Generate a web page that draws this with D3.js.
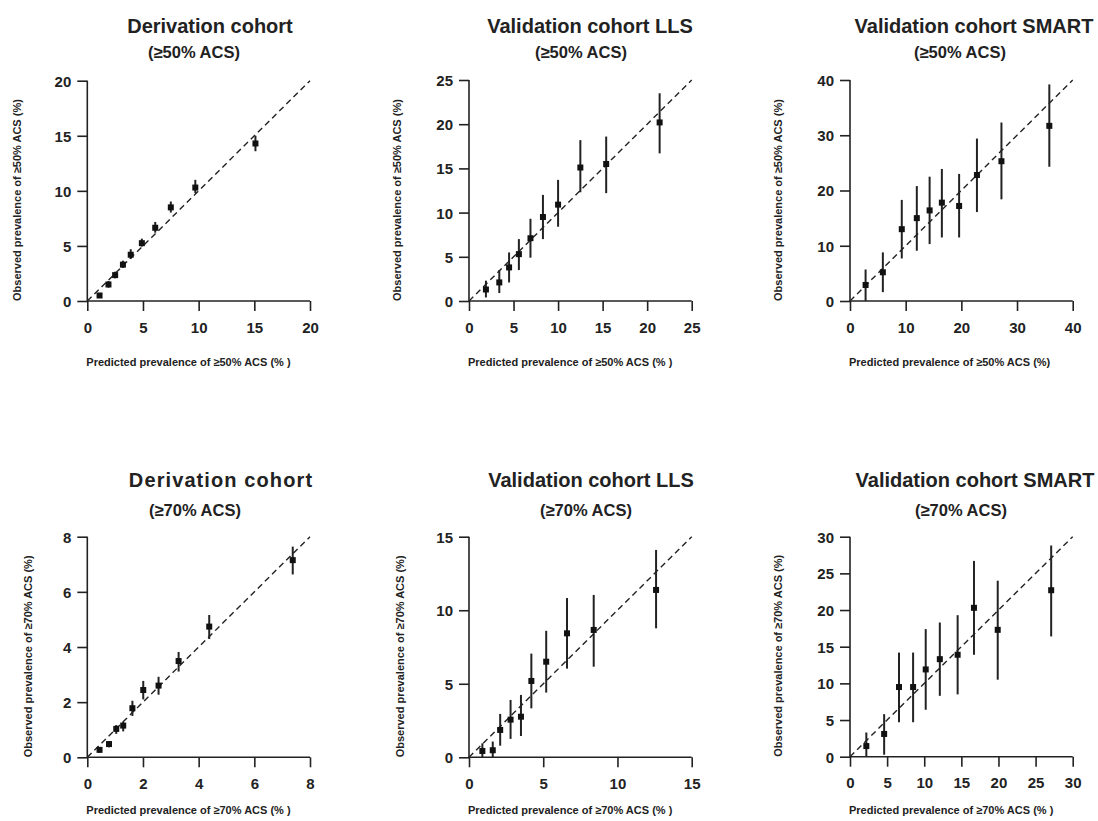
<!DOCTYPE html>
<html>
<head>
<meta charset="utf-8">
<script src="https://cdn.jsdelivr.net/npm/d3@7"></script>
<style>
  html, body { margin: 0; padding: 0; background: #fff; }
  svg { display: block; font-family: "Liberation Sans", Arial, sans-serif; }
</style>
</head>
<body>
<svg id="chart" width="1098" height="821"></svg>
<script>
// Calibration data: predicted vs observed prevalence (%) with 95% CI, per decile

// Derivation cohort, >=50% ACS
const derivPred50 = [1.1, 1.9, 2.5, 3.2, 3.9, 4.9, 6.1, 7.5, 9.7, 15.1];
const derivObs50  = [0.5, 1.5, 2.35, 3.3, 4.2, 5.25, 6.65, 8.5, 10.3, 14.3];
const derivLo50   = [0.27, 1.21, 2.06, 3.0, 3.82, 4.94, 6.2, 8.03, 9.8, 13.6];
const derivHi50   = [0.7, 1.82, 2.66, 3.66, 4.7, 5.66, 7.18, 9.03, 11.0, 15.0];

// Validation cohort LLS, >=50% ACS
const llsPred50 = [1.9, 3.4, 4.5, 5.6, 6.9, 8.3, 10.0, 12.5, 15.4, 21.4];
const llsObs50  = [1.3, 2.1, 3.8, 5.3, 7.1, 9.5, 10.9, 15.1, 15.5, 20.2];
const llsLo50   = [0.4, 0.9, 2.1, 3.5, 4.9, 7.0, 8.4, 12.3, 12.2, 16.7];
const llsHi50   = [2.3, 3.5, 5.5, 7.0, 9.3, 12.0, 13.7, 18.2, 18.6, 23.5];

// Validation cohort SMART, >=50% ACS
const smartPred50 = [2.8, 5.9, 9.3, 12.0, 14.3, 16.5, 19.6, 22.8, 27.2, 35.8];
const smartObs50  = [2.9, 5.2, 13.0, 15.0, 16.4, 17.8, 17.2, 22.8, 25.3, 31.7];
const smartLo50   = [0.0, 1.6, 7.7, 9.1, 10.3, 11.5, 11.5, 16.1, 18.4, 24.3];
const smartHi50   = [5.7, 8.8, 18.3, 20.8, 22.5, 23.9, 23.0, 29.4, 32.3, 39.2];

// Derivation cohort, >=70% ACS
const derivPred70 = [0.44, 0.78, 1.04, 1.29, 1.62, 2.01, 2.56, 3.28, 4.38, 7.38];
const derivObs70  = [0.27, 0.48, 1.03, 1.15, 1.78, 2.44, 2.6, 3.49, 4.74, 7.15];
const derivLo70   = [0.17, 0.36, 0.85, 0.94, 1.5, 2.1, 2.27, 3.11, 4.29, 6.63];
const derivHi70   = [0.36, 0.59, 1.17, 1.28, 2.05, 2.77, 2.92, 3.82, 5.16, 7.64];

// Validation cohort LLS, >=70% ACS
const llsPred70 = [0.9, 1.6, 2.1, 2.8, 3.5, 4.2, 5.2, 6.6, 8.4, 12.6];
const llsObs70  = [0.43, 0.48, 1.86, 2.56, 2.76, 5.19, 6.5, 8.43, 8.66, 11.38];
const llsLo70   = [0.0, 0.0, 0.79, 1.25, 1.45, 3.33, 4.4, 6.03, 6.16, 8.77];
const llsHi70   = [0.95, 1.07, 2.95, 3.9, 4.24, 7.05, 8.6, 10.83, 11.04, 14.1];

// Validation cohort SMART, >=70% ACS
const smartPred70 = [2.2, 4.6, 6.6, 8.5, 10.2, 12.1, 14.5, 16.7, 19.9, 27.1];
const smartObs70  = [1.45, 3.1, 9.5, 9.5, 11.9, 13.3, 13.9, 20.3, 17.3, 22.7];
const smartLo70   = [0.0, 0.27, 4.7, 4.7, 6.4, 8.3, 8.5, 13.9, 10.5, 16.4];
const smartHi70   = [3.3, 5.8, 14.2, 14.2, 17.4, 18.3, 19.3, 26.7, 24.0, 28.8];

// Axis ticks
const ticksDeriv50 = [0, 5, 10, 15, 20];
const ticksLls50   = [0, 5, 10, 15, 20, 25];
const ticksSmart50 = [0, 10, 20, 30, 40];
const ticksDeriv70 = [0, 2, 4, 6, 8];
const ticksLls70   = [0, 5, 10, 15];
const ticksSmart70 = [0, 5, 10, 15, 20, 25, 30];

// Titles
const titles = ["Derivation cohort", "Validation cohort LLS", "Validation cohort SMART",
                "Derivation cohort", "Validation cohort LLS", "Validation cohort SMART"];
const subtitles = ["(\u226550% ACS)", "(\u226550% ACS)", "(\u226550% ACS)",
                   "(\u226570% ACS)", "(\u226570% ACS)", "(\u226570% ACS)"];
const xTitles = ["Predicted prevalence of \u226550% ACS (% )", "Predicted prevalence of \u226550% ACS (% )",
                 "Predicted prevalence of  \u226550% ACS (%)", "Predicted prevalence of  \u226570% ACS (% )",
                 "Predicted prevalence of \u226570% ACS (% )", "Predicted prevalence of  \u226570% ACS (% )"];
const yTitles = ["Observed prevalence of \u226550% ACS (%)", "Observed prevalence of \u226550% ACS (%)",
                 "Observed prevalence of \u226550% ACS (%)", "Observed prevalence of  \u226570% ACS (%)",
                 "Observed prevalence of  \u226570% ACS (%)", "Observed prevalence of  \u226570% ACS (%)"];

const panelData = [
  { pred: derivPred50, obs: derivObs50, lo: derivLo50, hi: derivHi50, ticks: ticksDeriv50 },
  { pred: llsPred50,   obs: llsObs50,   lo: llsLo50,   hi: llsHi50,   ticks: ticksLls50 },
  { pred: smartPred50, obs: smartObs50, lo: smartLo50, hi: smartHi50, ticks: ticksSmart50 },
  { pred: derivPred70, obs: derivObs70, lo: derivLo70, hi: derivHi70, ticks: ticksDeriv70 },
  { pred: llsPred70,   obs: llsObs70,   lo: llsLo70,   hi: llsHi70,   ticks: ticksLls70 },
  { pred: smartPred70, obs: smartObs70, lo: smartLo70, hi: smartHi70, ticks: ticksSmart70 }
];

// Panel geometry (plot frame in px) and text placement
const layout = [
  { x0: 87.3,  x1: 310,    y0: 301,   y1: 80.7,  tX: 210, tY: 33,  sX: 194, sY: 58,  yT: 17,  ls: 0,   xtY: 366 },
  { x0: 469,   x1: 691.7,  y0: 301,   y1: 80,    tX: 590, tY: 33,  sX: 581, sY: 58,  yT: 397, ls: 0,   xtY: 366 },
  { x0: 850,   x1: 1072.7, y0: 301,   y1: 80,    tX: 974, tY: 33,  sX: 960, sY: 58,  yT: 778, ls: 0,   xtY: 366 },
  { x0: 87.3,  x1: 310,    y0: 757.3, y1: 536.7, tX: 221, tY: 487, sX: 195, sY: 516, yT: 28,  ls: 1.1, xtY: 814 },
  { x0: 469,   x1: 691.7,  y0: 757.3, y1: 536.7, tX: 591, tY: 487, sX: 586, sY: 516, yT: 400, ls: 0,   xtY: 814 },
  { x0: 850,   x1: 1072.7, y0: 756.7, y1: 536.7, tX: 975, tY: 487, sX: 961, sY: 516, yT: 778, ls: 0,   xtY: 814 }
];

const ink = "#222";
const svg = d3.select("#chart");
svg.append("rect").attr("width", 1098).attr("height", 821).attr("fill", "#fff");

panelData.forEach((d, i) => {
  const L = layout[i];
  const max = d3.max(d.ticks);
  const x = d3.scaleLinear().domain([0, max]).range([L.x0, L.x1]);
  const y = d3.scaleLinear().domain([0, max]).range([L.y0, L.y1]);
  const g = svg.append("g");

  // Titles
  g.append("text")
    .attr("x", L.tX).attr("y", L.tY)
    .attr("text-anchor", "middle")
    .attr("font-size", 20).attr("font-weight", "bold")
    .attr("letter-spacing", L.ls)
    .attr("fill", ink).text(titles[i]);
  g.append("text")
    .attr("x", L.sX).attr("y", L.sY)
    .attr("text-anchor", "middle")
    .attr("font-size", 16.5).attr("font-weight", "bold")
    .attr("fill", ink).text(subtitles[i]);

  // Axes
  const xAxis = d3.axisBottom(x).tickValues(d.ticks).tickSize(10).tickPadding(11).tickFormat(d3.format("d"));
  const yAxis = d3.axisLeft(y).tickValues(d.ticks).tickSize(10).tickPadding(6).tickFormat(d3.format("d"));

  const gx = g.append("g").attr("transform", `translate(0,${L.y0})`).call(xAxis);
  const gy = g.append("g").attr("transform", `translate(${L.x0},0)`).call(yAxis);
  [gx, gy].forEach(ax => {
    ax.select(".domain").attr("stroke", ink).attr("stroke-width", 1.6);
    ax.selectAll(".tick line").attr("stroke", ink).attr("stroke-width", 1.6);
    ax.selectAll(".tick text")
      .attr("fill", ink).attr("font-size", 15).attr("font-weight", "bold")
      .attr("font-family", "Liberation Sans, Arial, sans-serif");
  });
  gx.select(".domain").attr("d", `M${L.x0},0H${L.x1}`);
  gy.select(".domain").attr("d", `M0,${L.y0}V${L.y1}`);
  gy.selectAll(".tick text").attr("dy", "0.36em");

  // Axis titles
  g.append("text")
    .attr("x", L.x0 - 1).attr("y", L.xtY)
    .attr("font-size", 11).attr("font-weight", "bold")
    .attr("fill", ink).text(xTitles[i]);
  g.append("text")
    .attr("transform", `translate(${L.yT + 4},${L.y0}) rotate(-90)`)
    .attr("font-size", 11).attr("font-weight", "bold")
    .attr("fill", ink).text(yTitles[i]);

  // Line of identity
  g.append("line")
    .attr("x1", x(0)).attr("y1", y(0)).attr("x2", x(max)).attr("y2", y(max))
    .attr("stroke", ink).attr("stroke-width", 1.4).attr("stroke-dasharray", "6,4");

  // Confidence intervals
  g.selectAll(".ci").data(d.pred).join("line")
    .attr("x1", (p) => x(p)).attr("x2", (p) => x(p))
    .attr("y1", (p, k) => y(d.lo[k])).attr("y2", (p, k) => y(d.hi[k]))
    .attr("stroke", ink).attr("stroke-width", 2);

  // Observed points
  const s = 6;
  g.selectAll(".pt").data(d.pred).join("rect")
    .attr("x", (p) => x(p) - s / 2)
    .attr("y", (p, k) => y(d.obs[k]) - s / 2)
    .attr("width", s).attr("height", s)
    .attr("fill", "#111");
});
</script>
</body>
</html>
